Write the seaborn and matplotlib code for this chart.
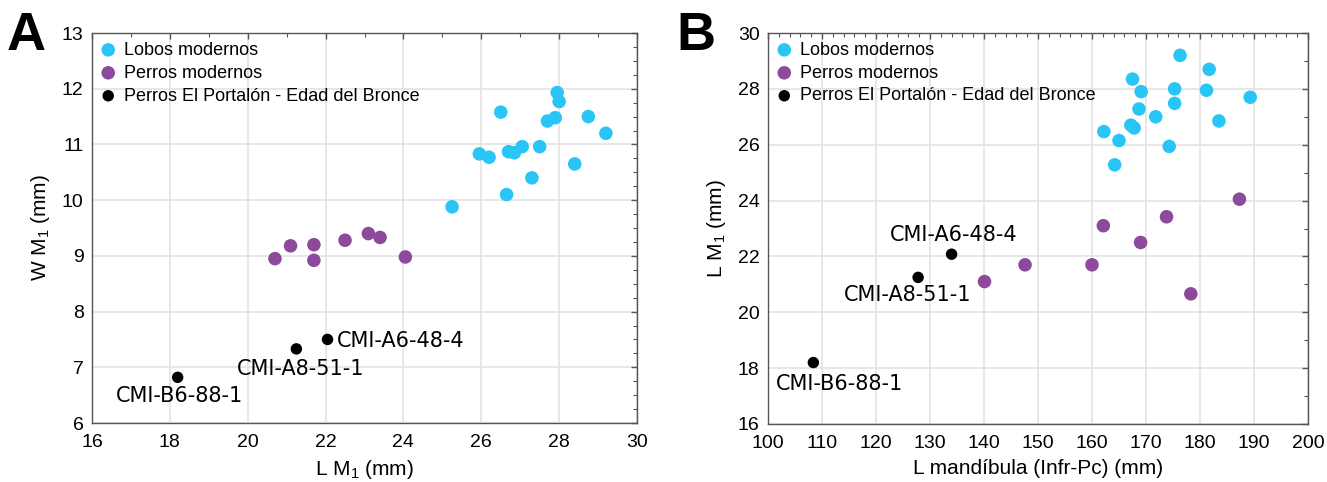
import numpy as np
import pandas as pd
import seaborn as sns
import matplotlib.pyplot as plt
from matplotlib.ticker import MultipleLocator

# Panel A: L M1 vs W M1
lobos_a_x = [25.25, 25.95, 26.2, 26.5, 26.65, 26.7, 26.85, 27.05, 27.3, 27.5, 27.7, 27.9, 27.95, 28.0, 28.4, 28.75, 29.2]
lobos_a_y = [9.88, 10.83, 10.77, 11.58, 10.1, 10.87, 10.85, 10.96, 10.4, 10.96, 11.42, 11.48, 11.93, 11.77, 10.65, 11.5, 11.2]
perros_a_x = [20.7, 21.1, 21.7, 21.7, 22.5, 23.1, 23.4, 24.05]
perros_a_y = [8.95, 9.18, 9.2, 8.92, 9.28, 9.4, 9.33, 8.98]
portalon_a_x = [18.2, 21.25, 22.05]
portalon_a_y = [6.82, 7.33, 7.5]

# Panel B: L mandibula vs L M1
lobos_b_x = [176.3, 181.7, 167.5, 175.3, 181.2, 169.1, 189.3, 175.3, 168.7, 171.8, 183.5, 167.2, 167.8, 162.2, 165.0, 174.3, 164.2]
lobos_b_y = [29.2, 28.7, 28.35, 28.0, 27.95, 27.9, 27.7, 27.48, 27.28, 27.0, 26.85, 26.7, 26.6, 26.47, 26.15, 25.94, 25.28]
perros_b_x = [140.1, 147.6, 160.0, 162.1, 169.0, 173.8, 178.3, 187.3]
perros_b_y = [21.1, 21.7, 21.7, 23.1, 22.5, 23.42, 20.66, 24.05]
portalon_b_x = [108.4, 127.8, 134.0]
portalon_b_y = [18.2, 21.25, 22.08]

specimens = ["CMI-B6-88-1", "CMI-A8-51-1", "CMI-A6-48-4"]
# label positions (data coords) and alignment
labels_a = [(18.24, 6.48, "center"), (21.35, 6.97, "center"), (22.3, 7.48, "left")]
labels_b = [(113.2, 17.45, "center"), (125.8, 20.62, "center"), (134.3, 22.76, "center")]

groups = ["Lobos modernos", "Perros modernos", "Perros El Portalón - Edad del Bronce"]
colors = ["#29C5F6", "#8D4A9C", "#000000"]
sizes = [95, 95, 68]

sns.set_style("white")
plt.rcParams["font.family"] = ["Liberation Sans", "DejaVu Sans"]
plt.rcParams["mathtext.fontset"] = "custom"
plt.rcParams["mathtext.rm"] = "Liberation Sans"
plt.rcParams["text.color"] = "black"
plt.rcParams["axes.labelcolor"] = "black"
plt.rcParams["xtick.labelcolor"] = "black"
plt.rcParams["ytick.labelcolor"] = "black"


def make_df(xs, ys):
    rows = []
    for g, x, y in zip(groups, xs, ys):
        for a, b in zip(x, y):
            rows.append({"x": a, "y": b, "grupo": g})
    return pd.DataFrame(rows)


df_a = make_df([lobos_a_x, perros_a_x, portalon_a_x], [lobos_a_y, perros_a_y, portalon_a_y])
df_b = make_df([lobos_b_x, perros_b_x, portalon_b_x], [lobos_b_y, perros_b_y, portalon_b_y])

fig = plt.figure(figsize=(13.27, 4.82), dpi=100)
ax_a = fig.add_axes([92 / 1327, 1 - 423 / 482, 545 / 1327, 390 / 482])
ax_b = fig.add_axes([768 / 1327, 1 - 424 / 482, 540 / 1327, 391 / 482])


def draw(ax, df, labels, xlim, ylim, xmaj, xmin, ymaj, ymin, xlabel, ylabel):
    for g, c, s in zip(groups, colors, sizes):
        sns.scatterplot(data=df[df["grupo"] == g], x="x", y="y", color=c, s=s,
                        edgecolor="none", linewidth=0, label=g, ax=ax, zorder=3)
    for name, (tx, ty, ha) in zip(specimens, labels):
        ax.text(tx, ty, name, ha=ha, va="center", fontsize=15,
                family="DejaVu Sans", zorder=4)
    ax.set_xlim(*xlim)
    ax.set_ylim(*ylim)
    ax.xaxis.set_major_locator(MultipleLocator(xmaj))
    ax.xaxis.set_minor_locator(MultipleLocator(xmin))
    ax.yaxis.set_major_locator(MultipleLocator(ymaj))
    ax.yaxis.set_minor_locator(MultipleLocator(ymin))
    ax.grid(True, which="major", color="#e3e3e3", linewidth=1.2, zorder=0)
    ax.set_axisbelow(True)
    ax.tick_params(which="both", direction="in", top=True, right=True,
                   color="#555555", labelsize=14)
    ax.tick_params(axis="x", which="major", pad=8)
    ax.tick_params(axis="y", which="major", pad=6)
    ax.tick_params(which="major", length=4, width=1)
    ax.tick_params(which="minor", length=3, width=0.8)
    for sp in ax.spines.values():
        sp.set_color("#555555")
        sp.set_linewidth(1.0)
    ax.set_xlabel(xlabel, fontsize=15, labelpad=5)
    ax.set_ylabel(ylabel, fontsize=15, labelpad=7)
    ax.legend(loc="upper left", bbox_to_anchor=(-0.01, 1.015), frameon=False,
              fontsize=13, handlelength=0.8, handletextpad=0.45,
              labelspacing=0.33, borderpad=0.3)


draw(ax_a, df_a, labels_a, (16, 30), (6, 13), 2, 1, 1, 0.25,
     "L M$_\\mathregular{1}$ (mm)", "W M$_\\mathregular{1}$ (mm)")
draw(ax_b, df_b, labels_b, (100, 200), (16, 30), 10, 2, 2, 1,
     "L mandíbula (Infr-Pc) (mm)", "L M$_\\mathregular{1}$ (mm)")

fig.text(7 / 1327, 1 - 50 / 482, "A", fontsize=39, fontweight="bold", va="baseline")
fig.text(676 / 1327, 1 - 50 / 482, "B", fontsize=39, fontweight="bold", va="baseline")

fig.savefig("out.png", dpi=100)
